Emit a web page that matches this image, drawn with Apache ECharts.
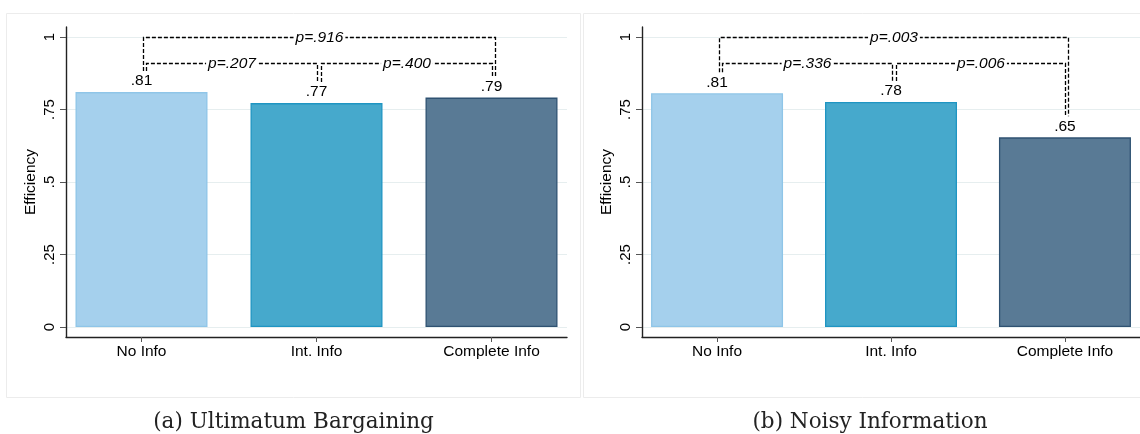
<!DOCTYPE html>
<html>
<head>
<meta charset="utf-8">
<script src="https://cdn.jsdelivr.net/npm/echarts@6/dist/echarts.min.js"></script>
<style>
html,body{margin:0;padding:0;background:#fff;}
#chart{width:1140px;height:434px;}
</style>
</head>
<body>
<div id="chart"></div>
<script>
// ---- data ----
const categories = ['No Info', 'Int. Info', 'Complete Info'];
const effUltimatum = [0.810, 0.772, 0.791];
const effNoisy = [0.806, 0.776, 0.654];
const yTicks = [0, 0.25, 0.5, 0.75, 1];
const yTickLabels = ['0', '.25', '.5', '.75', '1'];
const bracketPairs = [[0, 2], [0, 1], [1, 2]];
const bracketLevels = [1.0, 0.91, 0.91];
const pUltimatum = ['p=.916', 'p=.207', 'p=.400'];
const pNoisy = ['p=.003', 'p=.336', 'p=.006'];
const captions = ['(a) Ultimatum Bargaining', '(b) Noisy Information'];
const yName = 'Efficiency';

// ---- styles ----
const barFill = ['#a5d0ed', '#46a9cc', '#597a95'];
const barEdge = ['#8fc5e8', '#1f95c2', '#2f5272'];
const SANS = '"Liberation Sans", Arial, sans-serif';

function fmtVal(v) { return v.toFixed(2).replace(/^0/, ''); }

function bracketRows() {
  return bracketPairs.map((p, k) => [p[0], p[1], bracketLevels[k]]);
}

function makeBracketRender(vals, plabels) {
  return function (params, api) {
    const i = api.value(0), j = api.value(1), lvl = api.value(2);
    const outer = (j - i) > 1;
    const offL = outer ? 1.5 : 4.5;
    const offR = outer ? 3.5 : 0.5;
    const pL = api.coord([i, lvl]);
    const pR = api.coord([j, lvl]);
    const lx = Math.round(pL[0] + offL) + 0.5;
    const rx = Math.round(pR[0] + offR) + 0.5;
    const ly = Math.round(pL[1]) + 0.5;
    const lb = api.coord([i, vals[i]])[1] - 21;
    const rb = api.coord([j, vals[j]])[1] - 21;
    return {
      type: 'group',
      children: [
        {
          type: 'polyline',
          shape: { points: [[lx, lb], [lx, ly], [rx, ly], [rx, rb]] },
          style: { stroke: '#000', fill: null, lineWidth: 1.3, lineDash: [4, 2] }
        },
        {
          type: 'text',
          style: {
            x: (lx + rx) / 2, y: ly, text: plabels[params.dataIndex],
            align: 'center', verticalAlign: 'middle',
            font: 'italic 15.5px ' + SANS, fill: '#000',
            backgroundColor: '#fff', padding: [0, 2]
          }
        }
      ]
    };
  };
}

const panels = [
  { left: 66, vals: effUltimatum, pl: pUltimatum },
  { left: 642, vals: effNoisy, pl: pNoisy }
];

const grids = [], xAxes = [], yAxes = [], series = [];
panels.forEach((pn, k) => {
  grids.push({ left: pn.left, top: 27, width: 501, height: 310, containLabel: false });
  xAxes.push({
    type: 'value', gridIndex: k, min: -0.4314, max: 2.4314,
    axisLine: { show: true, onZero: false, lineStyle: { color: '#222', width: 1.4 } },
    axisTick: { show: true, customValues: [0, 1, 2], length: 5, lineStyle: { color: '#555', width: 1 } },
    axisLabel: {
      customValues: [0, 1, 2], margin: 7,
      formatter: v => categories[Math.round(v)],
      color: '#000', fontSize: 15.5, fontFamily: SANS
    },
    splitLine: { show: false }
  });
  yAxes.push({
    type: 'value', gridIndex: k, min: -0.0345, max: 1.0345,
    name: yName, nameLocation: 'middle', nameRotate: 90, nameGap: 27,
    nameTextStyle: { color: '#000', fontSize: 15.5, fontFamily: SANS },
    axisLine: { show: true, onZero: false, lineStyle: { color: '#222', width: 1.4 } },
    axisTick: { show: true, customValues: yTicks, length: 6, lineStyle: { color: '#555', width: 1 } },
    axisLabel: {
      customValues: yTicks, rotate: 90, margin: 9,
      formatter: v => { let b = 0; yTicks.forEach((t, q) => { if (Math.abs(t - v) < Math.abs(yTicks[b] - v)) b = q; }); return yTickLabels[b]; },
      color: '#000', fontSize: 15, fontFamily: SANS
    },
    splitLine: { show: true, lineStyle: { color: '#e6eeef', width: 1 } }
  });
  series.push({
    type: 'bar', xAxisIndex: k, yAxisIndex: k, barWidth: 132, z: 2,
    data: pn.vals.map((v, i) => ({
      value: [i, v],
      itemStyle: { color: barFill[i], borderColor: barEdge[i], borderWidth: 1.3 }
    })),
    label: {
      show: true, position: 'top', distance: 3,
      formatter: p => fmtVal(p.value[1]),
      color: '#000', fontSize: 15.5, fontFamily: SANS
    },
    animation: false
  });
  series.push({
    type: 'custom', xAxisIndex: k, yAxisIndex: k, z: 5,
    encode: { x: [0, 1], y: 2 },
    data: bracketRows(),
    renderItem: makeBracketRender(pn.vals, pn.pl),
    animation: false, silent: true
  });
});

const chart = echarts.init(document.getElementById('chart'), null, { renderer: 'canvas' });
chart.setOption({
  backgroundColor: '#fff',
  animation: false,
  grid: grids,
  xAxis: xAxes,
  yAxis: yAxes,
  series: series,
  graphic: [
    { type: 'rect', shape: { x: 6.5, y: 13.5, width: 574, height: 384 }, style: { fill: null, stroke: '#ececec', lineWidth: 1 }, z: -1 },
    { type: 'rect', shape: { x: 583.5, y: 13.5, width: 620, height: 384 }, style: { fill: null, stroke: '#ececec', lineWidth: 1 }, z: -1 },
    { type: 'text', x: 293.5, y: 422, style: { text: captions[0], align: 'center', verticalAlign: 'middle', font: '21.5px "DejaVu Serif", serif', fill: '#222' } },
    { type: 'text', x: 870, y: 422, style: { text: captions[1], align: 'center', verticalAlign: 'middle', font: '21.5px "DejaVu Serif", serif', fill: '#222' } }
  ]
});
</script>
</body>
</html>
